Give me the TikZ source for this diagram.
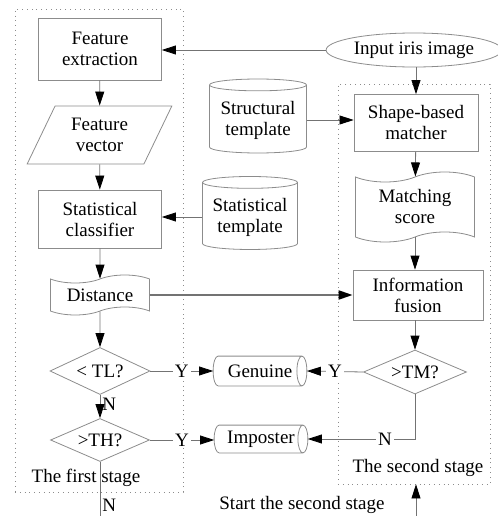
\documentclass[tikz,border=0pt]{standalone}
\usepackage{fontspec}
\setmainfont{Liberation Serif}
\usetikzlibrary{arrows.meta,calc,shapes.geometric,shapes.symbols}
\tikzset{
	blk/.style={draw=black!45, font=\fontsize{9.5}{10.5}\selectfont, align=center, inner sep=1pt},
	proc/.style={blk, rectangle},
	data/.style={blk, trapezium, trapezium left angle=63, trapezium right angle=117, trapezium stretches=true},
	tapebox/.style={blk, tape, tape bend height=4pt},
	decision/.style={blk, diamond, aspect=2.1, inner sep=0pt},
	store/.style={blk, cylinder, shape border rotate=90, aspect=0.15},
	hstore/.style={blk, rectangle, draw=none},
	stagebox/.style={draw=black!45, dotted, line width=0.4pt},
	lbl/.style={font=\fontsize{9.5}{10.5}\selectfont, inner sep=1pt},
	arr/.style={draw=black!55, -{Triangle[length=7pt,width=4.5pt,black]}},
}
\def\hcylinder#1{
	\draw[black!45] let \p1=(#1.north), \p2=(#1.south), \n1={0.5*(\y1-\y2)} in
		([xshift=2.5pt]#1.south west) arc[start angle=270, end angle=90, x radius=2.5pt, y radius=\n1]
		-- ([xshift=-2.5pt]#1.north east)
		([xshift=-2.5pt]#1.east) ellipse[x radius=2.5pt, y radius=\n1]
		([xshift=-2.5pt]#1.south east) -- ([xshift=2.5pt]#1.south west);
}

\begin{document}
\begin{tikzpicture}[x=0.5pt,y=0.5pt]
	\useasboundingbox (0,0) rectangle (498,516);
	\node[stagebox, minimum width=84pt, minimum height=241.5pt] (stage1) at (99,265.5) {};
	\node[stagebox, minimum width=76pt, minimum height=200pt] (stage2) at (414,232) {};

	\node[proc, minimum width=61.5pt, minimum height=31pt] (featext) at (100,467) {Feature\\extraction};
	\node[data, minimum width=72.5pt, minimum height=29pt] (featvec) at (99.5,381) {Feature\\vector};
	\node[proc, minimum width=61.5pt, minimum height=29pt] (statcls) at (100,297) {Statistical\\classifier};
	\node[tapebox, minimum width=49.5pt, minimum height=20pt] (dist) at (100,221) {Distance};
	\node[decision, minimum width=50pt, minimum height=23.5pt] (lowtest) at (100,145) {< TL?};
	\node[decision, minimum width=49.5pt, minimum height=21.5pt] (hightest) at (100,76) {>TH?};

	\node[hstore, minimum width=46.5pt, minimum height=14.5pt] (genuine) at (260,145) {Genuine};
	\hcylinder{genuine}
	\node[hstore, minimum width=46.5pt, minimum height=13.5pt] (imposter) at (261,77) {Imposter};
	\hcylinder{imposter}
	\node[store, minimum width=48.5pt, minimum height=37pt] (structtpl) at (258,396) {Structural\\template};
	\node[store, minimum width=47.5pt, minimum height=36.5pt] (stattpl) at (250,299) {Statistical\\template};

	\node[blk, ellipse, minimum width=86pt, minimum height=17pt] (input) at (414,466) {Input iris image};
	\node[proc, minimum width=62pt, minimum height=28.5pt] (shapematch) at (416,393) {Shape-based\\matcher};
	\node[tapebox, tape bend height=5pt, minimum width=59.5pt, minimum height=35pt] (matchscore) at (415,309) {Matching\\score};
	\node[proc, minimum width=65pt, minimum height=25pt] (fusion) at (418,221) {Information\\fusion};
	\node[decision, minimum width=51.5pt, minimum height=22pt] (midtest) at (415,144) {>TM?};

	\node[lbl] (firstlbl) at (86,38) {The first stage};
	\node[lbl] (secondlbl) at (418,48) {The second stage};
	\node[lbl] (startlbl) at (302,11) {Start the second stage};
	\coordinate (rejectend) at (100,0);
	\coordinate (startend) at (416,0);

	\draw[arr] (input.west) -- (input.west -| featext.east);
	\draw[arr] (input.south -| shapematch.north) -- (shapematch.north);
	\draw[arr] (featext) -- (featvec);
	\draw[arr] (featvec) -- (statcls);
	\draw[arr] (stattpl.west) -- (stattpl.west -| statcls.east);
	\draw[arr] (statcls) -- (dist);
	\draw[arr] (dist) -- (lowtest);
	\draw[arr] (lowtest) -- node[lbl, right, pos=0.4] {N} (hightest);
	\draw[arr] (lowtest.east) -- node[lbl, fill=white] {Y} (genuine.west);
	\draw[arr] (hightest.east) -- node[lbl, fill=white] {Y} (imposter.west |- hightest.east);
	\draw[draw=black!55] (hightest.south) -- node[lbl, right, pos=0.8] {N} (rejectend);

	\draw[arr] (structtpl.east) -- (structtpl.east -| shapematch.west);
	\draw[arr] (shapematch) -- (matchscore);
	\draw[arr] (matchscore.south) -- (matchscore.south |- fusion.north);
	\draw[arr, line width=1pt] (dist.east) -- (dist.east -| fusion.west);
	\draw[arr] (fusion.south -| midtest.north) -- (midtest.north);
	\draw[arr] (midtest.west) -- node[lbl, fill=white] {Y} (genuine.east);
	\draw[arr] (midtest.south) |- node[lbl, fill=white, pos=0.64] {N} (imposter.east);
	\draw[arr] (startend) -- (stage2.south -| startend);
\end{tikzpicture}
\end{document}
